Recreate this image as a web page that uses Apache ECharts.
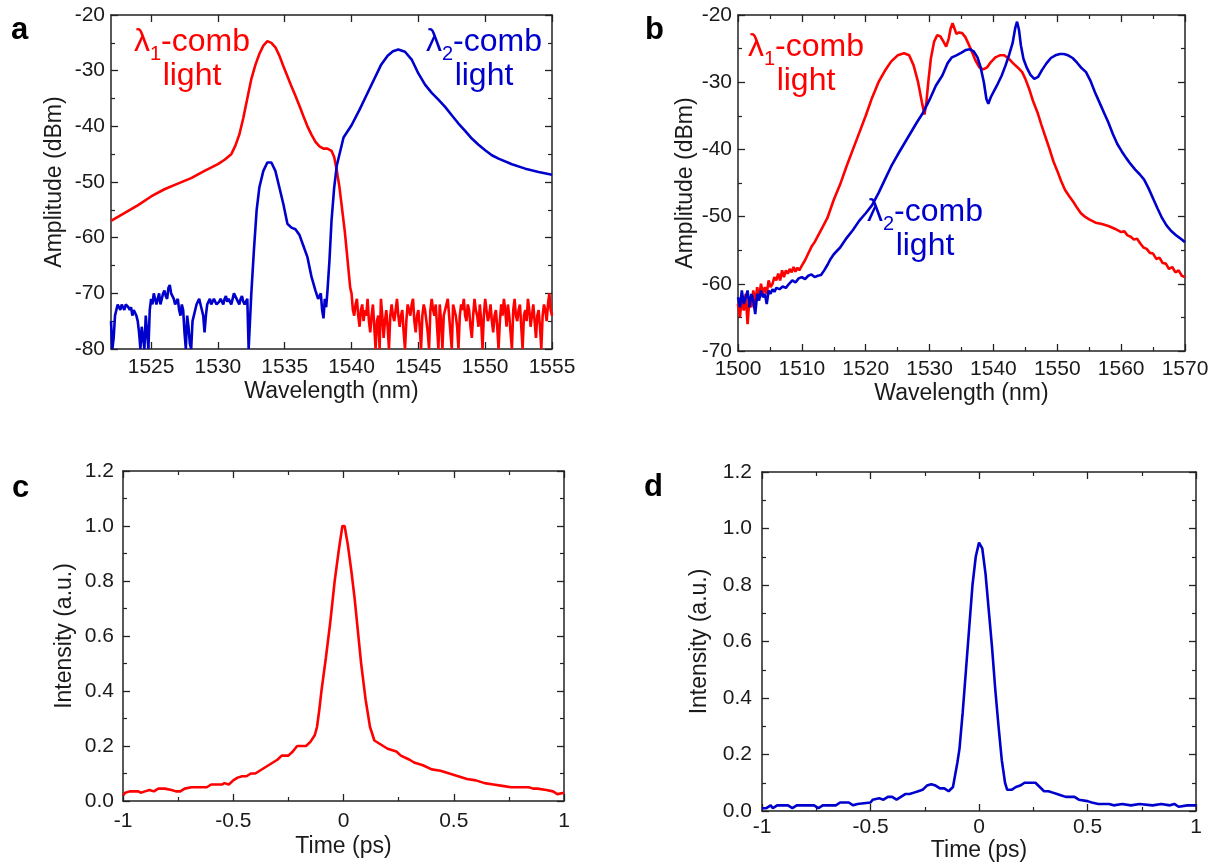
<!DOCTYPE html>
<html><head><meta charset="utf-8">
<script src="https://cdn.jsdelivr.net/npm/echarts@6/dist/echarts.min.js"></script>
<style>html,body{margin:0;padding:0;background:#fff}#c{width:1218px;height:863px}</style>
</head><body><div id="c"></div>
<script>
// ---------- Panel a : spectra (wavelength nm, dBm) ----------
const aRed = [
[1522,-57],[1523,-55.6],[1524,-54.2],[1525,-52.6],[1526,-51.3],[1527,-50.3],[1528,-49.3],[1529,-48],[1530,-46.8],[1530.5,-46],[1531,-45],[1531.3,-43.5],[1531.6,-41.5],[1531.9,-38.5],[1532.2,-35],[1532.5,-31.5],[1532.8,-29],[1533.1,-27],[1533.4,-25.5],[1533.7,-24.7],[1534,-25],[1534.3,-25.8],[1534.6,-27.3],[1534.9,-29.2],[1535.2,-31],[1535.5,-32.8],[1535.8,-34.5],[1536.1,-36.3],[1536.4,-38.2],[1536.7,-40],[1537,-41.5],[1537.3,-42.8],[1537.6,-43.6],[1537.9,-44],[1538.2,-44],[1538.5,-44.4],[1538.7,-45.5],[1538.9,-48],[1539.1,-51],[1539.3,-55],[1539.5,-59],[1539.7,-64],[1539.9,-69],
[1540,-70],[1540.1,-73],[1540.2,-74],[1540.3,-72],[1540.4,-71],[1540.5,-74],[1540.6,-76],[1540.7,-73],[1540.8,-72],[1540.9,-75],[1541,-73],[1541.1,-74],[1541.2,-71],[1541.3,-75],[1541.4,-77],[1541.5,-74],[1541.6,-72],[1541.7,-76],[1541.8,-80],[1541.9,-75],[1542,-74],[1542.1,-80],[1542.2,-71],[1542.3,-74],[1542.4,-78],[1542.5,-75],[1542.6,-73],[1542.7,-76],[1542.8,-80],[1542.9,-74],[1543,-72],[1543.1,-74],[1543.2,-75],[1543.3,-73],[1543.4,-71],[1543.5,-74],[1543.6,-76],[1543.7,-74],[1543.8,-73],[1543.9,-77],[1544,-80],[1544.1,-75],[1544.2,-72],[1544.3,-73],[1544.4,-74],[1544.5,-72],[1544.6,-71],[1544.7,-75],[1544.8,-77],[1544.9,-74],[1545,-73],[1545.1,-76],[1545.2,-80],[1545.3,-74],[1545.4,-72],[1545.5,-73],[1545.6,-75],[1545.7,-77],[1545.8,-80],[1545.9,-73],[1546,-71],[1546.1,-73],[1546.2,-74],[1546.3,-72],[1546.4,-76],[1546.5,-80],[1546.6,-72],[1546.7,-75],[1546.8,-80],[1546.9,-74],[1547,-73],[1547.1,-72],[1547.2,-71],[1547.3,-74],[1547.4,-77],[1547.5,-80],[1547.6,-72],[1547.7,-73],[1547.8,-74],[1547.9,-76],[1548,-80],[1548.1,-74],[1548.2,-72],[1548.3,-73],[1548.4,-71],[1548.5,-74],[1548.6,-75],[1548.7,-72],[1548.8,-73],[1548.9,-76],[1549,-78],[1549.1,-74],[1549.2,-71],[1549.3,-73],[1549.4,-74],[1549.5,-76],[1549.6,-72],[1549.7,-75],[1549.8,-80],[1549.9,-74],[1550,-71],[1550.1,-73],[1550.2,-75],[1550.3,-74],[1550.4,-72],[1550.5,-75],[1550.6,-77],[1550.7,-74],[1550.8,-73],[1550.9,-76],[1551,-80],[1551.1,-75],[1551.2,-72],[1551.3,-74],[1551.4,-71],[1551.5,-73],[1551.6,-76],[1551.7,-72],[1551.8,-74],[1551.9,-77],[1552,-80],[1552.1,-73],[1552.2,-71],[1552.3,-74],[1552.4,-75],[1552.5,-73],[1552.6,-72],[1552.7,-76],[1552.8,-80],[1552.9,-74],[1553,-73],[1553.1,-75],[1553.2,-71],[1553.3,-73],[1553.4,-76],[1553.5,-74],[1553.6,-72],[1553.7,-75],[1553.8,-78],[1553.9,-74],[1554,-73],[1554.1,-76],[1554.2,-80],[1554.3,-74],[1554.4,-72],[1554.5,-73],[1554.6,-75],[1554.7,-72],[1554.8,-70],[1554.9,-73],[1555,-74]
];
const aBlue = [
[1522,-75],[1522.1,-80],[1522.2,-78],[1522.3,-74],[1522.4,-73],[1522.5,-72],[1522.6,-72],[1522.7,-73],[1522.8,-72],[1522.9,-72.5],[1523,-73],[1523.1,-72],[1523.2,-72],[1523.3,-72.5],[1523.4,-73],[1523.5,-72.5],[1523.6,-74],[1523.7,-73],[1523.8,-73],[1523.9,-74],[1524,-75],[1524.1,-77],[1524.2,-80],[1524.3,-76],[1524.4,-78],[1524.5,-80],[1524.6,-74],[1524.7,-77],[1524.8,-80],[1524.9,-73],[1525,-71],[1525.1,-72],[1525.2,-70],[1525.3,-71],[1525.4,-72],[1525.5,-71],[1525.6,-70],[1525.7,-72],[1525.8,-71],[1525.9,-70],[1526,-69.5],[1526.1,-70.5],[1526.2,-71],[1526.3,-69],[1526.4,-68.5],[1526.5,-70],[1526.6,-70],[1526.7,-71],[1526.8,-72],[1526.9,-71.5],[1527,-71],[1527.1,-73],[1527.2,-74],[1527.3,-72],[1527.4,-73],[1527.5,-77],[1527.6,-80],[1527.7,-74],[1527.8,-76],[1527.9,-79],[1528,-80],[1528.1,-75],[1528.2,-74],[1528.3,-73],[1528.4,-72],[1528.5,-71.5],[1528.6,-71],[1528.7,-72],[1528.8,-73],[1528.9,-74],[1529,-77],[1529.1,-74],[1529.2,-72],[1529.3,-71.5],[1529.4,-71],[1529.5,-72],[1529.6,-72],[1529.7,-71],[1529.8,-71],[1529.9,-72],[1530,-72],[1530.1,-71.5],[1530.2,-71],[1530.3,-71.5],[1530.4,-72],[1530.5,-71],[1530.6,-70.5],[1530.7,-71.5],[1530.8,-71],[1530.9,-71.5],[1531,-72],[1531.1,-71],[1531.2,-70],[1531.3,-70.5],[1531.4,-71],[1531.5,-71.5],[1531.6,-72],[1531.7,-71],[1531.8,-70.5],[1531.9,-71.5],[1532,-72],[1532.1,-71.5],[1532.2,-71],[1532.3,-80],
[1532.4,-80],[1532.5,-70],[1532.7,-62],[1532.9,-55],[1533.1,-51],[1533.4,-48],[1533.7,-46.5],[1534,-46.5],[1534.3,-48],[1534.6,-51],[1534.9,-54],[1535.2,-57.5],[1535.5,-58.2],[1535.8,-58.5],[1536.1,-59.5],[1536.4,-61.5],[1536.7,-63.5],[1537,-67],[1537.3,-69.5],[1537.5,-71],[1537.7,-70],[1537.8,-73],[1537.9,-74.5],[1538,-71],[1538.1,-72.5],[1538.2,-69.5],[1538.35,-64],[1538.5,-57],[1538.7,-51],[1538.9,-47],[1539.4,-42],[1540,-39.8],[1540.6,-37],[1541,-35],[1541.7,-31.5],[1542.2,-29],[1542.7,-27.3],[1543.1,-26.5],[1543.5,-26.2],[1544,-26.6],[1544.5,-28],[1545,-30.5],[1545.5,-32.5],[1546,-34],[1546.5,-35.2],[1547,-36.5],[1547.5,-38],[1548,-39.5],[1548.5,-40.8],[1549,-42.2],[1549.5,-43.3],[1550,-44.3],[1550.5,-45.2],[1551,-45.8],[1552,-46.8],[1553,-47.6],[1554,-48.2],[1555,-48.7]
];
const aXTicks = [1525,1530,1535,1540,1545,1550,1555];

// ---------- Panel b : spectra ----------
const bRed = [
[1500,-63],[1500.3,-65],[1500.6,-62],[1500.9,-64],[1501.2,-61.5],[1501.5,-66],[1501.8,-62],[1502.1,-63.5],[1502.4,-61],[1502.7,-63],[1503,-60.5],[1503.3,-62],[1503.6,-60],[1503.9,-61.5],[1504.2,-60.5],[1504.5,-61.5],[1504.8,-59.5],[1505.1,-60.5],[1505.4,-60],[1505.7,-59],[1506,-59.5],[1506.3,-58.5],[1506.6,-59.5],[1506.9,-58],[1507.2,-59],[1507.5,-58],[1507.8,-58.5],[1508.1,-57.8],[1508.4,-58.3],[1508.7,-57.5],[1509,-58.2],[1509.3,-57.6],[1509.6,-58],[1510,-57.3],[1510.5,-56.5],[1511,-55.5],[1511.5,-54.5],[1512,-53.8],[1513,-52],[1514,-50.2],[1515,-47.5],[1516,-45.2],[1517,-42.5],[1518,-40],[1519,-37.5],[1520,-35],[1521,-32.3],[1522,-30],[1523,-28.3],[1524,-26.9],[1525,-26],[1526,-25.7],[1526.8,-26],[1527.5,-27.5],[1528.2,-30],[1528.8,-33],[1529.2,-34.8],[1529.5,-33],[1529.8,-30],[1530.2,-26.5],[1530.7,-24],[1531.2,-23],[1531.7,-23.2],[1532.2,-24],[1532.6,-24.7],[1533,-23.5],[1533.3,-22],[1533.6,-21.2],[1533.9,-22],[1534.2,-22.8],[1534.6,-22.6],[1535.1,-22.7],[1535.6,-23.3],[1536.1,-24.3],[1536.6,-25.4],[1537.2,-26.8],[1537.8,-27.8],[1538.4,-28.1],[1539,-27.8],[1539.6,-27],[1540.3,-26.3],[1541,-26],[1541.7,-26],[1542.4,-26.5],[1543.1,-27.2],[1543.8,-27.8],[1544.5,-28.5],[1545,-29.5],[1545.6,-31],[1546.2,-32.8],[1546.9,-34.5],[1547.5,-36.3],[1548.2,-38.3],[1548.8,-40],[1549.4,-41.8],[1550,-43.2],[1550.6,-44.7],[1551.2,-46],[1551.9,-47],[1552.5,-47.8],[1553.1,-48.7],[1553.7,-49.5],[1554.3,-50],[1555,-50.4],[1556,-50.9],[1557,-51.1],[1558,-51.4],[1559,-51.8],[1560,-52.3],[1560.5,-52.2],[1561,-52.8],[1561.5,-53],[1562,-53.4],[1562.5,-53.3],[1563,-54],[1563.5,-54.6],[1564,-54.8],[1564.5,-55.4],[1565,-55.5],[1565.5,-56.3],[1566,-56.1],[1566.5,-56.9],[1567,-57],[1567.5,-57.8],[1568,-57.5],[1568.5,-58.3],[1569,-58],[1569.5,-58.8],[1570,-59]
];
const bBlue = [
[1500,-62],[1500.3,-63.5],[1500.6,-61],[1500.9,-63],[1501.2,-62],[1501.5,-61],[1501.8,-63.5],[1502.1,-61.5],[1502.4,-62.5],[1502.7,-64.5],[1503,-61.5],[1503.3,-62.5],[1503.6,-61],[1503.9,-62],[1504.2,-61.5],[1504.5,-63],[1504.8,-61],[1505.1,-61.5],[1505.4,-60.8],[1505.7,-61.2],[1506,-60.6],[1506.5,-60.8],[1507,-60.4],[1507.5,-60.6],[1508,-60],[1508.5,-59.5],[1509,-59.8],[1509.5,-59.2],[1510,-59],[1510.5,-59.3],[1511,-58.8],[1511.5,-58.6],[1512,-59],[1512.5,-58.8],[1513,-58.7],[1513.5,-58],[1514,-57.2],[1514.5,-56.3],[1515,-55.6],[1516,-54.6],[1517,-53.2],[1518,-52],[1519,-50.6],[1520,-49.5],[1521,-48.3],[1522,-46.5],[1523,-44.5],[1524,-42.5],[1525,-40.8],[1526,-39.2],[1527,-37.6],[1528,-36],[1529,-34.5],[1530,-32.6],[1531,-30.5],[1532,-29],[1532.8,-27.2],[1533.5,-26.3],[1534.2,-26],[1535,-25.6],[1535.7,-25.2],[1536.3,-25.1],[1536.9,-25.4],[1537.5,-26.3],[1538,-27.8],[1538.5,-30],[1538.9,-32.5],[1539.2,-33.2],[1539.6,-32.2],[1540.1,-31.3],[1540.7,-30.2],[1541.3,-29],[1541.9,-27.5],[1542.5,-25.8],[1543,-24.2],[1543.4,-22],[1543.7,-21],[1544,-22.2],[1544.3,-24.5],[1544.7,-26.5],[1545.2,-27.8],[1545.8,-28.9],[1546.4,-29.5],[1547,-29.2],[1547.6,-28.2],[1548.3,-27.2],[1549,-26.4],[1549.7,-26],[1550.4,-25.8],[1551,-25.8],[1551.7,-26],[1552.4,-26.4],[1553.1,-27.1],[1553.8,-27.9],[1554.5,-28.5],[1555.2,-29.8],[1555.9,-31.5],[1556.6,-33],[1557.3,-34.5],[1558,-36],[1558.7,-37.7],[1559.4,-39.2],[1560.1,-40.3],[1560.8,-41.3],[1561.5,-42.2],[1562.2,-43],[1562.9,-43.7],[1563.6,-44.5],[1564.3,-45.8],[1565,-47.3],[1565.7,-48.8],[1566.4,-50.2],[1567.1,-51.3],[1567.8,-52.1],[1568.5,-52.7],[1569.2,-53.2],[1570,-53.8]
];

// ---------- Panel c / d : autocorrelation (ps, a.u.) ----------
const cRed = [
[-1,0.02],[-0.99,0.03],[-0.97,0.035],[-0.93,0.035],[-0.92,0.03],[-0.9,0.035],[-0.88,0.04],[-0.86,0.035],[-0.84,0.045],[-0.81,0.045],[-0.78,0.04],[-0.76,0.035],[-0.74,0.035],[-0.72,0.045],[-0.69,0.05],[-0.62,0.05],[-0.6,0.06],[-0.55,0.06],[-0.54,0.065],[-0.52,0.06],[-0.5,0.075],[-0.48,0.085],[-0.46,0.09],[-0.44,0.09],[-0.42,0.1],[-0.4,0.1],[-0.38,0.11],[-0.36,0.12],[-0.34,0.13],[-0.32,0.14],[-0.3,0.15],[-0.28,0.165],[-0.25,0.165],[-0.23,0.18],[-0.21,0.2],[-0.17,0.2],[-0.15,0.215],[-0.13,0.24],[-0.12,0.27],[-0.11,0.33],[-0.1,0.4],[-0.08,0.52],[-0.06,0.65],[-0.04,0.8],[-0.02,0.92],[-0.005,1.0],[0.005,1.0],[0.02,0.93],[0.035,0.84],[0.05,0.74],[0.065,0.62],[0.08,0.5],[0.1,0.37],[0.12,0.27],[0.14,0.22],[0.16,0.21],[0.2,0.19],[0.24,0.18],[0.26,0.165],[0.3,0.15],[0.32,0.14],[0.36,0.13],[0.4,0.115],[0.44,0.11],[0.48,0.1],[0.52,0.09],[0.56,0.08],[0.6,0.075],[0.64,0.065],[0.68,0.06],[0.72,0.055],[0.76,0.05],[0.84,0.05],[0.86,0.045],[0.88,0.045],[0.92,0.04],[0.95,0.035],[0.97,0.025],[1,0.03]
];
const dBlue = [
[-1,0.01],[-0.98,0.01],[-0.96,0.02],[-0.95,0.01],[-0.93,0.02],[-0.9,0.02],[-0.88,0.02],[-0.86,0.01],[-0.84,0.02],[-0.8,0.02],[-0.76,0.02],[-0.74,0.01],[-0.72,0.02],[-0.66,0.02],[-0.64,0.03],[-0.6,0.03],[-0.58,0.02],[-0.56,0.025],[-0.5,0.03],[-0.49,0.04],[-0.46,0.045],[-0.44,0.04],[-0.42,0.05],[-0.4,0.05],[-0.38,0.04],[-0.36,0.05],[-0.34,0.06],[-0.32,0.06],[-0.3,0.065],[-0.28,0.07],[-0.26,0.075],[-0.24,0.09],[-0.22,0.095],[-0.2,0.09],[-0.18,0.08],[-0.16,0.08],[-0.14,0.07],[-0.12,0.085],[-0.1,0.17],[-0.09,0.22],[-0.075,0.35],[-0.06,0.5],[-0.045,0.65],[-0.03,0.8],[-0.015,0.9],[0,0.95],[0.015,0.93],[0.03,0.84],[0.045,0.71],[0.06,0.58],[0.075,0.43],[0.09,0.3],[0.105,0.18],[0.12,0.1],[0.13,0.075],[0.15,0.075],[0.17,0.085],[0.19,0.09],[0.21,0.1],[0.26,0.1],[0.28,0.085],[0.3,0.07],[0.32,0.07],[0.34,0.065],[0.36,0.06],[0.38,0.055],[0.4,0.05],[0.44,0.05],[0.46,0.04],[0.5,0.035],[0.52,0.03],[0.55,0.025],[0.6,0.025],[0.62,0.02],[0.66,0.025],[0.7,0.02],[0.74,0.025],[0.8,0.02],[0.84,0.025],[0.88,0.02],[0.9,0.025],[0.92,0.015],[0.96,0.02],[1,0.02]
];

const RED = '#ff0000', BLUE = '#0000cc';
const FONT = "'Liberation Sans', Arial, Helvetica, sans-serif";
const INK = '#1a1a1a';
const TICKFS = 21, NAMEFS = 23;

const chart = echarts.init(document.getElementById('c'), null, {renderer:'canvas'});

const grids = [
  {left:111, top:15, width:441, height:334},
  {left:738, top:15, width:447, height:336},
  {left:123, top:471, width:441, height:330},
  {left:762, top:472, width:434, height:339}
];

const axLine = {show:true, onZero:false, lineStyle:{color:'#222', width:1.5}};
const plain = v => String(Math.round(v*100)/100);
function xAx(gi, pos, o){
  const main = pos==='bottom';
  return Object.assign({
    type:'value', gridIndex:gi, position:pos,
    axisLine:axLine,
    axisTick:{show:true, inside:true, length:7, lineStyle:{color:'#222', width:1.3}},
    minorTick:{show:true, splitNumber:2, length:4, lineStyle:{color:'#222', width:1.2}},
    splitLine:{show:false}, minorSplitLine:{show:false},
    axisLabel:{show:main, color:INK, fontSize:TICKFS, fontFamily:FONT, margin:8, formatter:plain},
    nameLocation:'middle', nameTextStyle:{color:INK, fontSize:NAMEFS, fontFamily:FONT}
  }, o);
}
function yAx(gi, pos, o){
  const main = pos==='left';
  return Object.assign({
    type:'value', gridIndex:gi, position:pos,
    axisLine:axLine,
    axisTick:{show:true, inside:true, length:7, lineStyle:{color:'#222', width:1.3}},
    minorTick:{show:true, splitNumber:2, length:4, lineStyle:{color:'#222', width:1.2}},
    splitLine:{show:false}, minorSplitLine:{show:false},
    axisLabel:{show:main, color:INK, fontSize:TICKFS, fontFamily:FONT, margin:6, formatter:plain},
    nameLocation:'middle', nameRotate:90, nameTextStyle:{color:INK, fontSize:NAMEFS, fontFamily:FONT}
  }, o);
}
const fmt1 = v => v.toFixed(1);

const aXTickCfg = {show:true, inside:true, length:7, customValues:aXTicks, lineStyle:{color:'#222', width:1.3}};
const xAxes = [
  xAx(0,'bottom',{min:1522,max:1555,name:'Wavelength (nm)',nameGap:31,
    axisTick:aXTickCfg, minorTick:{show:false},
    axisLabel:{show:true,color:INK,fontSize:TICKFS,fontFamily:FONT,margin:8,customValues:aXTicks,formatter:plain}}),
  xAx(0,'top',{min:1522,max:1555, axisTick:aXTickCfg, minorTick:{show:false},
    axisLabel:{show:false,customValues:aXTicks}}),
  xAx(1,'bottom',{min:1500,max:1570,interval:10,name:'Wavelength (nm)',nameGap:31}),
  xAx(1,'top',{min:1500,max:1570,interval:10}),
  xAx(2,'bottom',{min:-1,max:1,interval:0.5,name:'Time (ps)',nameGap:34,
    axisLabel:{show:true,color:INK,fontSize:TICKFS,fontFamily:FONT,margin:10,formatter:plain}}),
  xAx(2,'top',{min:-1,max:1,interval:0.5}),
  xAx(3,'bottom',{min:-1,max:1,interval:0.5,name:'Time (ps)',nameGap:19,
    axisLabel:{show:true,color:INK,fontSize:TICKFS,fontFamily:FONT,margin:6,formatter:plain}}),
  xAx(3,'top',{min:-1,max:1,interval:0.5})
];
const yAxes = [
  yAx(0,'left',{min:-80,max:-20,interval:10,name:'Amplitude (dBm)',nameGap:45}),
  yAx(0,'right',{min:-80,max:-20,interval:10}),
  yAx(1,'left',{min:-70,max:-20,interval:10,name:'Amplitude (dBm)',nameGap:41}),
  yAx(1,'right',{min:-70,max:-20,interval:10}),
  yAx(2,'left',{min:0,max:1.2,interval:0.2,name:'Intensity (a.u.)',nameGap:47,
    axisLabel:{show:true,color:INK,fontSize:TICKFS,fontFamily:FONT,margin:9,formatter:fmt1}}),
  yAx(2,'right',{min:0,max:1.2,interval:0.2}),
  yAx(3,'left',{min:0,max:1.2,interval:0.2,name:'Intensity (a.u.)',nameGap:51,
    axisLabel:{show:true,color:INK,fontSize:TICKFS,fontFamily:FONT,margin:10,formatter:fmt1}}),
  yAx(3,'right',{min:0,max:1.2,interval:0.2})
];

function line(data, xi, yi, color){
  return {type:'line', data, xAxisIndex:xi, yAxisIndex:yi, showSymbol:false, symbol:'none',
    clip:true, animation:false, lineStyle:{color, width:2.6}, itemStyle:{color}};
}

// annotation text: "λ" + subscript + "-comb" / "light", built from separate text pieces
const MAINFS = 32, SUBFS = 20;
const mctx = document.createElement('canvas').getContext('2d');
function tw(t, fs){ mctx.font = fs+'px '+FONT; return mctx.measureText(t).width; }
function txt(t, x, baseline, fs, color, align){
  return {type:'text', x, y: baseline - 0.35*fs, silent:true,
    style:{text:t, fill:color, font:fs+'px '+FONT, align:align||'left', verticalAlign:'middle'}};
}
function ann(cx, baseline, sub, color){
  const w1 = tw('λ', MAINFS), w2 = tw(sub, SUBFS), w3 = tw('-comb', MAINFS);
  const x0 = cx - (w1+w2+w3)/2;
  return [
    txt('λ', x0, baseline, MAINFS, color),
    txt(sub, x0+w1, baseline+8, SUBFS, color),
    txt('-comb', x0+w1+w2, baseline, MAINFS, color),
    txt('light', cx, baseline+34, MAINFS, color, 'center')
  ];
}
function letter(ch, x, y){
  return {type:'text', x, y, silent:true, style:{text:ch, fill:'#000', font:'bold 31px '+FONT, align:'left', verticalAlign:'bottom'}};
}

chart.setOption({
  animation:false,
  backgroundColor:'#fff',
  grid:grids.map(g=>Object.assign({containLabel:false}, g)),
  xAxis:xAxes, yAxis:yAxes,
  series:[
    line(aRed,0,0,RED), line(aBlue,0,0,BLUE),
    line(bRed,2,2,RED), line(bBlue,2,2,BLUE),
    line(cRed,4,4,RED), line(dBlue,6,6,BLUE)
  ],
  graphic:[].concat(
    ann(192,53,'1',RED), ann(484,53,'2',BLUE),
    ann(806,58,'1',RED), ann(925,223,'2',BLUE),
    [letter('a',11,46), letter('b',645,46), letter('c',12,504), letter('d',644,503)]
  )
});
</script></body></html>
